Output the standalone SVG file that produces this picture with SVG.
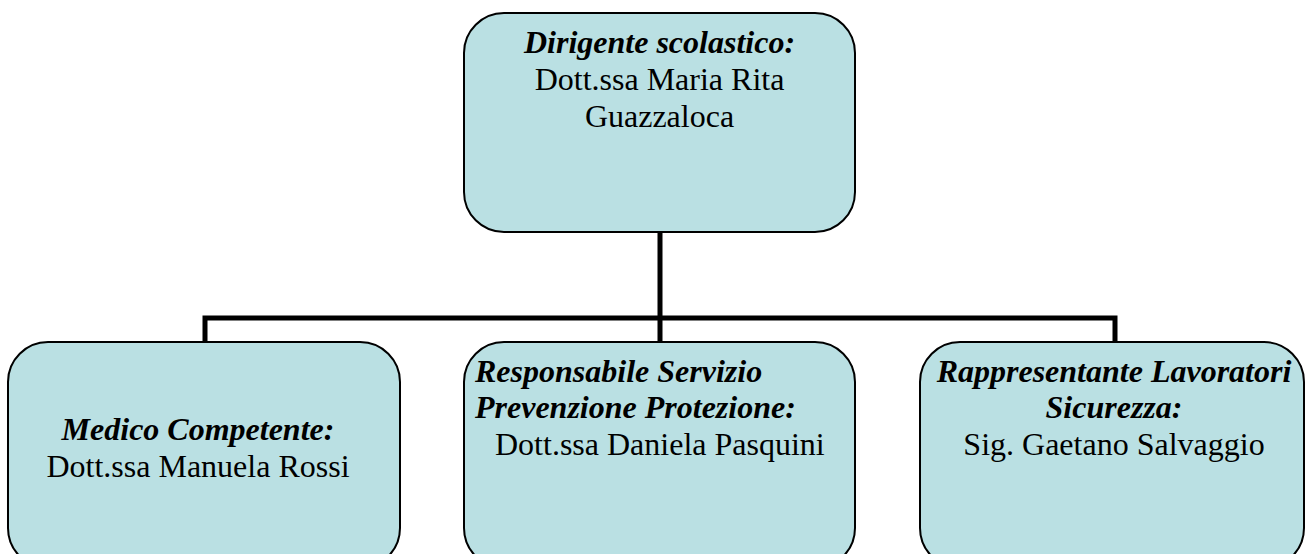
<svg xmlns="http://www.w3.org/2000/svg" width="1309" height="554" viewBox="0 0 1309 554">
<style>
.box{fill:#BAE0E3;stroke:#000;stroke-width:2}
.conn{fill:none;stroke:#000;stroke-width:5;stroke-linecap:square}
text{font-family:"Liberation Serif","Times New Roman",serif;font-size:32px;fill:#000}
.t{font-weight:bold;font-style:italic}
.c{text-anchor:middle}
</style>
<rect width="1309" height="554" fill="#fff"/>
<g id="connectors">
<path class="conn" d="M660 232 V318 M205 318 H1115 M205 318 V342 M660 318 V342 M1115 318 V342"/>
</g>
<g id="dirigente">
<rect class="box" x="464" y="13" width="391" height="219" rx="40" ry="40"/>
<text class="c t" x="659.5" y="53">Dirigente scolastico:</text>
<text class="c" x="659.5" y="90">Dott.ssa Maria Rita</text>
<text class="c" x="659.5" y="127">Guazzaloca</text>
</g>
<g id="medico">
<rect class="box" x="8" y="342" width="392" height="226" rx="40" ry="40"/>
<text class="c t" x="198" y="440">Medico Competente:</text>
<text class="c" x="198" y="477">Dott.ssa Manuela Rossi</text>
</g>
<g id="rspp">
<rect class="box" x="464" y="342" width="391" height="226" rx="40" ry="40"/>
<text class="t" x="475" y="382">Responsabile Servizio</text>
<text class="t" x="475" y="418">Prevenzione Protezione:</text>
<text x="495" y="455">Dott.ssa Daniela Pasquini</text>
</g>
<g id="rls">
<rect class="box" x="920" y="342" width="384" height="226" rx="40" ry="40"/>
<text class="c t" x="1114" y="382">Rappresentante Lavoratori</text>
<text class="c t" x="1114" y="418">Sicurezza:</text>
<text class="c" x="1114" y="455">Sig. Gaetano Salvaggio</text>
</g>
</svg>
